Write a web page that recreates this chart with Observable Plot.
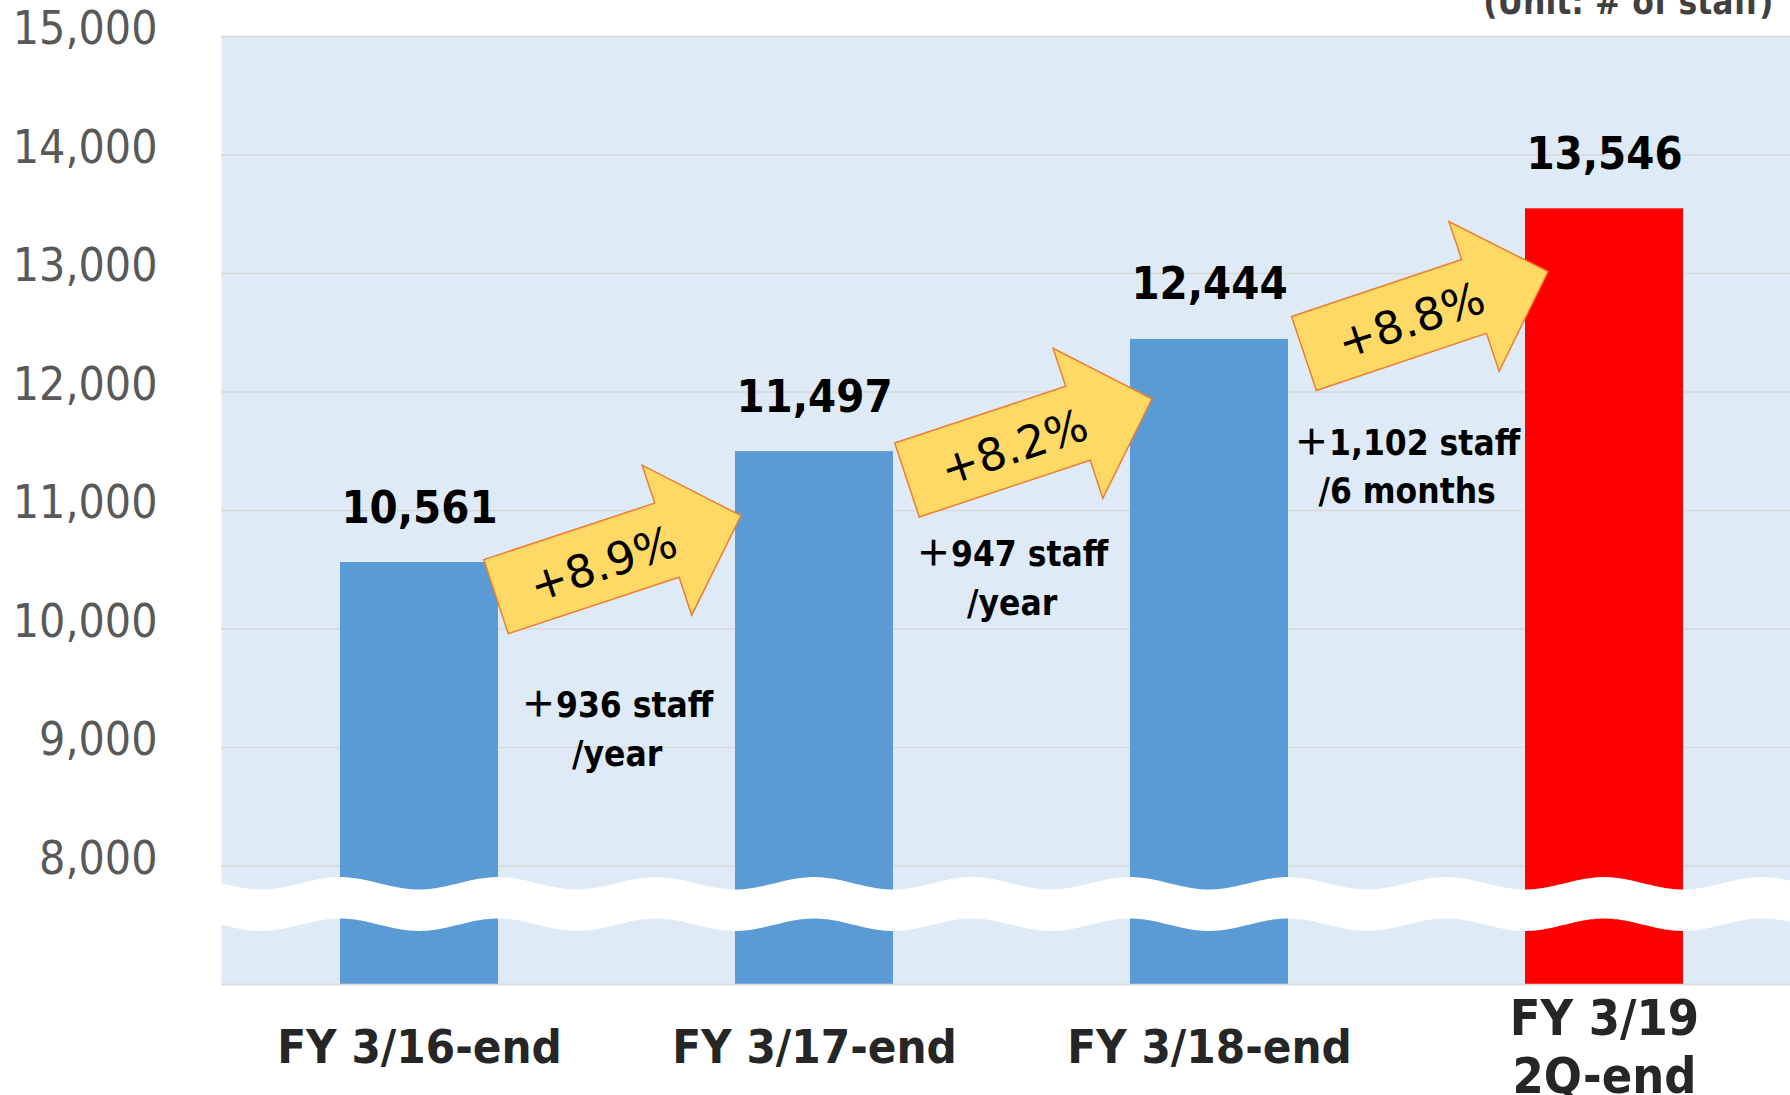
<!DOCTYPE html>
<html><head><meta charset="utf-8">
<script src="https://cdn.jsdelivr.net/npm/d3@7"></script>
<script src="https://cdn.jsdelivr.net/npm/@observablehq/plot@0.6"></script>
<style>
@font-face { font-family: "PlusCJK"; src: local("Noto Sans CJK JP Bold"), local("NotoSansCJKjp-Bold"), local("Noto Sans CJK JP"); font-weight: bold; unicode-range: U+FF0B; }
html,body{margin:0;padding:0;background:#fff;overflow:hidden;}
#chart{width:1790px;height:1095px;overflow:hidden;}
#chart svg{max-width:none !important;width:1810px;height:1095px;}
</style></head><body><div id="chart"></div>
<script>
// ---- data ----
const categories = ["FY 3/16-end", "FY 3/17-end", "FY 3/18-end", "FY 3/19\n2Q-end"];
const staff = [10561, 11497, 12444, 13546];
const barColors = ["#5B9BD5", "#5B9BD5", "#5B9BD5", "#FF0000"];
const yTickValues = [8000, 9000, 10000, 11000, 12000, 13000, 14000, 15000];
const gridValues = [7000, 8000, 9000, 10000, 11000, 12000, 13000, 14000, 15000];
const yDomain = [7000, 15000];
const growthLabels = ["+8.9%", "+8.2%", "+8.8%"];
const arrowTailY = [10269, 11253, 12321];
const arrowTipY = [10952, 11939, 13012];
const gainLabels = ["＋936 staff\n/year", "＋947 staff\n/year", "＋1,102 staff\n/6 months"];
const gainLabelY = [8843, 10117, 11061];
const breakTop = 7850, breakBottom = 7500;
const unitNote = "(Unit: # of staff)";

// ---- layout / style ----
const W = 1810, H = 1095, ML = 221, MR = 8, MT = 36, MB = 111;
const PAD_IN = 0.6, PAD_OUT = 0.3;
const step = (W - ML - MR) / (categories.length - PAD_IN + 2 * PAD_OUT);
const COND = "'DejaVu Sans Condensed', 'DejaVu Sans', sans-serif";
const GAIN = "PlusCJK, 'DejaVu Sans Condensed', 'DejaVu Sans', 'Noto Sans CJK JP', sans-serif";
const REG = "'DejaVu Sans', sans-serif";
const tailNudge = [-2, 14, 16], tipNudge = [6, 22, 23];
const xLabelSize = [47, 47, 47, 50];

const rows = categories.map((c, i) => ({cat: c, value: staff[i], color: barColors[i]}));
const fmt = d3.format(",");

function bwOf(x) { return x.bandwidth ? x.bandwidth() : step * (1 - PAD_IN); }

function waveBreak(index, scales, values, dims) {
  const x = scales.x, y = scales.y;
  const left = dims.marginLeft, right = dims.width - dims.marginRight;
  const x0 = x(categories[0]);
  const P = bwOf(x);
  const A = 6.2;
  const yt = y(breakTop), yb = y(breakBottom);
  const pts = d3.range(left, right + 2, 2);
  const f = (xx, c) => c - A * Math.cos(2 * Math.PI * (xx - x0) / P);
  const top = pts.map(xx => [xx, f(xx, yt)]);
  const bot = pts.slice().reverse().map(xx => [xx, f(xx, yb)]);
  return d3.create("svg:path").attr("d", d3.line()([...top, ...bot]) + "Z").attr("fill", "#fff").node();
}

function growthArrows(index, scales) {
  const x = scales.x, y = scales.y, bw = bwOf(x);
  const g = d3.create("svg:g");
  growthLabels.forEach((lab, i) => {
    const tx = x(categories[i]) + bw + tailNudge[i], ty = y(arrowTailY[i]);
    const hx = x(categories[i + 1]) + tipNudge[i], hy = y(arrowTipY[i]);
    const L = Math.hypot(hx - tx, hy - ty);
    const ang = Math.atan2(hy - ty, hx - tx) * 180 / Math.PI;
    const hb = L - 78;
    const a = g.append("g").attr("transform", `translate(${tx},${ty}) rotate(${ang})`);
    a.append("path")
      .attr("d", d3.line()([[0, -39], [hb, -39], [hb, -79], [L, 0], [hb, 79], [hb, 39], [0, 39]]) + "Z")
      .attr("fill", "#FFD966").attr("stroke", "#ED7D31").attr("stroke-width", 1.5).attr("stroke-linejoin", "miter");
    a.append("text").attr("x", 112).attr("y", 2).attr("dy", "0.36em")
      .attr("text-anchor", "middle").attr("font-family", REG).attr("font-size", 45).attr("fill", "#000")
      .text(lab);
  });
  return g.node();
}

const chart = Plot.plot({
  width: W, height: H,
  marginLeft: ML, marginRight: MR, marginTop: MT, marginBottom: MB,
  x: {type: "band", domain: categories, paddingInner: PAD_IN, paddingOuter: PAD_OUT, axis: null},
  y: {domain: yDomain, axis: null},
  color: {type: "identity"},
  style: {fontFamily: COND, background: "#fff", overflow: "visible", maxWidth: "none"},
  marks: [
    Plot.frame({fill: "#DEEBF7", stroke: null}),
    Plot.gridY(gridValues, {stroke: "#D9D9D9", strokeOpacity: 1, strokeWidth: 1.5}),
    Plot.barY(rows, {x: "cat", y1: yDomain[0], y2: "value", fill: "color"}),
    waveBreak,
    Plot.ruleY([yDomain[0]], {stroke: "#D9D9D9", strokeWidth: 1.5}),
    Plot.text(yTickValues, {y: d => d, text: d => fmt(d), frameAnchor: "left", textAnchor: "end",
      dx: -64, dy: -7, fontSize: 46, fill: "#595959", fontFamily: COND}),
    Plot.text(rows, {x: "cat", y: "value", text: d => fmt(d.value), lineAnchor: "bottom", dy: -40,
      fontSize: 45, fontWeight: "bold", fill: "#000", fontFamily: COND}),
    growthArrows,
    Plot.text(gainLabels.map((t, i) => ({t, cat: categories[i], y: gainLabelY[i]})),
      {x: "cat", y: "y", text: "t", dx: step / 2, lineAnchor: "bottom", lineHeight: 1.39,
       fontSize: 35, fontWeight: "bold", fill: "#000", fontFamily: GAIN}),
    Plot.text(categories, {x: d => d, text: d => d, frameAnchor: "bottom", dy: 61, lineAnchor: "middle",
      lineHeight: 1.17, fontSize: (d, i) => xLabelSize[i], fontWeight: "bold", fill: "#262626", fontFamily: COND}),
    Plot.text([unitNote], {text: d => d, frameAnchor: "top-right", textAnchor: "end", lineAnchor: "bottom",
      dx: -29, dy: -23, fontSize: 35, fontWeight: "bold", fill: "#404040", fontFamily: COND})
  ]
});
document.getElementById("chart").appendChild(chart);
</script>
</body></html>
